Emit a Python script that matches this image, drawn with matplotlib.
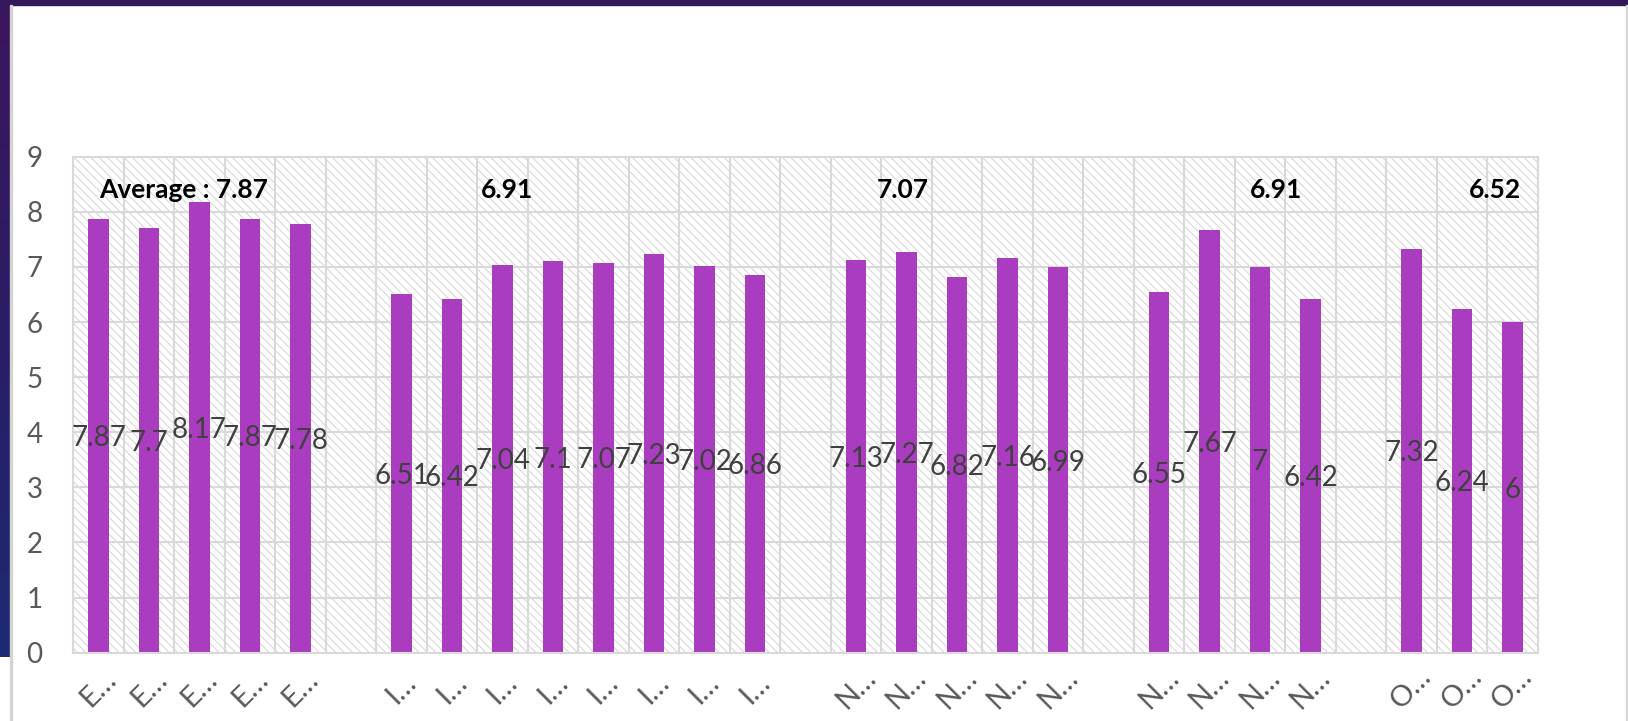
import numpy as np
import matplotlib.pyplot as plt
from matplotlib.patches import Rectangle
from matplotlib.colors import LinearSegmentedColormap

plt.rcParams['font.family'] = ['Lato', 'DejaVu Sans']
plt.rcParams['hatch.linewidth'] = 0.7

groups = ['E', 'I', 'N', 'N', 'O']
scores = [
    [7.87, 7.7, 8.17, 7.87, 7.78],
    [6.51, 6.42, 7.04, 7.1, 7.07, 7.23, 7.02, 6.86],
    [7.13, 7.27, 6.82, 7.16, 6.99],
    [6.55, 7.67, 7, 6.42],
    [7.32, 6.24, 6],
]
averages = ['Average : 7.87', '6.91', '7.07', '6.91', '6.52']

# one slot per bar, plus an empty slot between groups
xs, vals, ticklabels, starts = [], [], [], []
pos = 0
for g, vs in zip(groups, scores):
    starts.append(pos)
    for v in vs:
        xs.append(pos)
        vals.append(v)
        ticklabels.append(g + '\u2026')
        pos += 1
    pos += 1
n_slots = pos - 1

W, H = 1628, 721
fig = plt.figure(figsize=(W / 100, H / 100), dpi=100)
fig.patch.set_facecolor('white')

# slide frame: purple strip on top, gradient strip on the left
fig.patches.append(Rectangle((0, 1 - 5 / H), 1, 5 / H, transform=fig.transFigure,
                             color='#34185c', zorder=0))
side = fig.add_axes([0, (H - 657) / H, 10 / W, (657 - 5) / H])
cmap = LinearSegmentedColormap.from_list('side', ['#3b165c', '#2a1d66', '#1d2a72'])
side.imshow(np.linspace(0, 1, 100).reshape(-1, 1), aspect='auto', cmap=cmap)
side.axis('off')
fig.patches.append(Rectangle((10 / W, 0), 1.5 / W, 1 - 5 / H, transform=fig.transFigure,
                             color='#d4d4d4', zorder=0))
fig.patches.append(Rectangle((1 - 2 / W, 0), 2 / W, 1 - 5 / H, transform=fig.transFigure,
                             color='#d8d8d8', zorder=0))

ax = fig.add_axes([73.3 / W, 1 - 652.7 / H, (1537.7 - 73.3) / W, (652.7 - 156.7) / H])
ax.set_xlim(-0.5, n_slots - 0.5)
ax.set_ylim(0, 9)

# hatched plot background
ax.add_patch(Rectangle((-0.5, 0), n_slots, 9, facecolor='white', edgecolor='#d4d4d4',
                       linewidth=0, hatch='\\\\\\\\', zorder=0))

ax.bar(xs, vals, width=0.4, color='#aa3dbf', zorder=2)

for x, v in zip(xs, vals):
    ax.text(x, v / 2, f'{v:g}', ha='center', va='center_baseline', fontsize=20,
            color='#404040', zorder=3)

avg_offsets = [1.69, 2.08, 0.93, 2.31, 1.66]
for s, off, label in zip(starts, avg_offsets, averages):
    ax.text(s + off, 8.43, label, ha='center', va='center_baseline', fontsize=19,
            fontweight='bold', color='black', zorder=3)

ax.set_yticks(range(10))
ax.set_xticks(xs)
ax.set_xticklabels(ticklabels, rotation=45, ha='center', va='center',
                   rotation_mode='anchor', fontsize=21, color='#595959')
ax.set_xticks(np.arange(-0.5, n_slots, 1), minor=True)
ax.tick_params(axis='x', which='both', length=0, pad=26)
ax.tick_params(axis='y', length=0, pad=22, labelsize=20, labelcolor='#595959')
ax.grid(axis='y', color='#d9d9d9', linewidth=1.5, zorder=1)
ax.grid(axis='x', which='minor', color='#d9d9d9', linewidth=1.5, zorder=1)
ax.set_axisbelow(True)
for sp in ax.spines.values():
    sp.set_color('#d9d9d9')
    sp.set_linewidth(1.5)

fig.savefig('out.png', dpi=100)
